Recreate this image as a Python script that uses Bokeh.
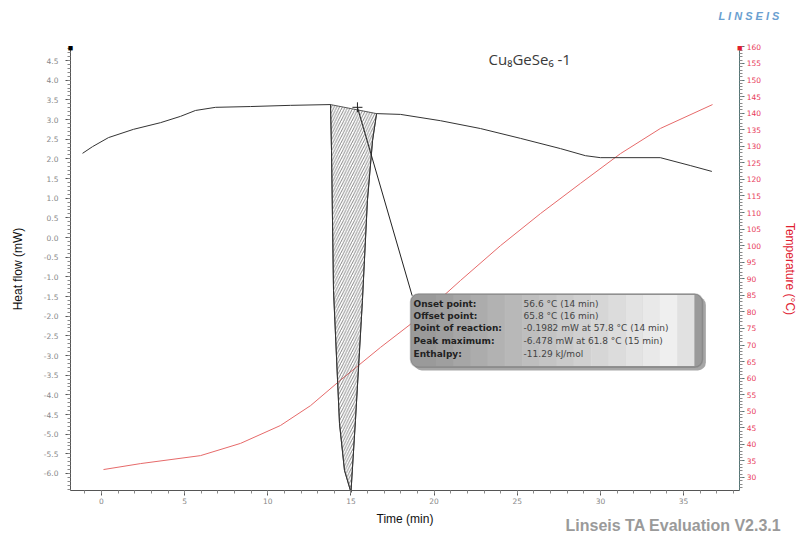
from bokeh.plotting import figure
from bokeh.models import Range1d, LinearAxis, FixedTicker, Label, BoxAnnotation, PrintfTickFormatter
from bokeh.embed import file_html
from bokeh.resources import INLINE

# ---- data ----
time_hf = [-1.14, -0.54, 0.42, 1.92, 3.55, 4.75, 5.65, 6.86, 8.96, 11.36, 13.77,
           13.83, 13.95, 14.31, 14.61, 15.0, 15.27, 15.69, 15.99, 16.30, 16.54,
           17.98, 20.38, 22.79, 25.2, 27.6, 29.1, 30.0, 33.6, 35.4, 36.7]
heat_flow = [2.14, 2.31, 2.54, 2.75, 2.92, 3.08, 3.23, 3.31, 3.33, 3.36, 3.38,
             2.21, -1.35, -4.73, -5.92, -6.478, -4.65, -1.60, 0.94, 2.47, 3.15,
             3.13, 2.97, 2.77, 2.52, 2.26, 2.08, 2.03, 2.03, 1.83, 1.68]
onset_t = 13.77
offset_t = 16.54

time_temp = [0.12, 2.35, 5.95, 8.36, 10.76, 12.57, 14.37, 16.78, 19.18, 21.59,
             23.99, 26.40, 28.80, 31.21, 33.61, 36.74]
temperature = [32.4, 34.2, 36.6, 40.3, 45.7, 51.7, 59.4, 69.3, 78.6, 89.5,
               100.0, 109.7, 118.8, 127.8, 135.4, 142.6]

x_ticks = [0, 5, 10, 15, 20, 25, 30, 35]
hf_ticks = [round(-6.0 + 0.5 * i, 1) for i in range(22)]
temp_ticks = list(range(30, 161, 5))

info_labels = ["Onset point:", "Offset point:", "Point of reaction:", "Peak maximum:", "Enthalpy:"]
info_values = ["56.6 \u00b0C (14 min)", "65.8 \u00b0C (16 min)",
               "-0.1982 mW at 57.8 \u00b0C (14 min)", "-6.478 mW at 61.8 \u00b0C (15 min)",
               "-11.29  kJ/mol"]
reaction_marker = (15.39, 3.31)

# ---- axis extents (data units) ----
AX_X0, AX_X1 = -1.864, 38.38     # time span of the axes
AX_Y0, AX_Y1 = -6.433, 4.83      # heat-flow span
AX_T0, AX_T1 = 26.07, 159.8      # temperature span

# the plotting frame covers the whole canvas; axes are pinned with fixed_location
W, H = 802, 534
p = figure(width=W, height=H,
           x_range=Range1d(-6.073, 42.15), y_range=Range1d(-7.551, 6.026),
           output_backend="svg", toolbar_location=None,
           min_border_left=0, min_border_right=0, min_border_top=0, min_border_bottom=0)
p.title.visible = False
p.extra_y_ranges = {"temp": Range1d(12.79, 174.02)}
p.outline_line_color = None
p.xgrid.visible = False
p.ygrid.visible = False
p.background_fill_color = "white"
p.border_fill_color = "white"

tick_font = "DejaVu Sans"


def style_axis(ax, label_color, line_color):
    ax.axis_line_color = line_color
    ax.major_tick_line_color = line_color
    ax.minor_tick_line_color = "#8a8a8a"
    ax.major_tick_out = 5
    ax.major_tick_in = 0
    ax.minor_tick_out = 3
    ax.minor_tick_in = 0
    ax.major_label_text_color = label_color
    ax.major_label_text_font = tick_font
    ax.major_label_text_font_size = "7.5px"
    ax.axis_label_text_font = "Liberation Sans"
    ax.axis_label_text_font_style = "normal"
    ax.axis_label_text_font_size = "12px"


# left axis
ya = p.yaxis[0]
style_axis(ya, "#888888", "#555555")
ya.ticker = FixedTicker(ticks=hf_ticks, minor_ticks=[round(-6.4 + 0.1 * i, 1) for i in range(113)])
ya.formatter = PrintfTickFormatter(format="%.1f")
ya.fixed_location = AX_X0
ya.bounds = (AX_Y0, AX_Y1)
ya.major_label_standoff = 7
ya.axis_label = "Heat flow (mW)"
ya.axis_label_text_color = "#111111"
ya.axis_label_standoff = 16

# right axis
ra = LinearAxis(y_range_name="temp")
style_axis(ra, "#e83a5a", "#557777")
ra.ticker = FixedTicker(ticks=temp_ticks, minor_ticks=list(range(27, 160)))
ra.fixed_location = AX_X1
ra.bounds = (AX_T0, AX_T1)
ra.major_label_standoff = 2
ra.axis_label = "Temperature (\u00b0C)"
ra.axis_label_text_color = "#e02030"
ra.axis_label_standoff = 19
p.add_layout(ra, "right")

# bottom axis
xa = p.xaxis[0]
style_axis(xa, "#888888", "#555555")
xa.ticker = FixedTicker(ticks=x_ticks, minor_ticks=list(range(-1, 39)))
xa.fixed_location = AX_Y0
xa.bounds = (AX_X0, AX_X1)
xa.major_label_standoff = 2
xa.axis_label = "Time (min)"
xa.axis_label_text_color = "#111111"
xa.axis_label_standoff = 5

# temperature curve
p.line(time_temp, temperature, y_range_name="temp", line_color="#e66a6a", line_width=1)

# hatched peak area between baseline and curve
i0 = time_hf.index(onset_t)
i1 = time_hf.index(offset_t)
px = time_hf[i0:i1 + 1]
py = heat_flow[i0:i1 + 1]
p.patch(px, py, fill_alpha=0, hatch_pattern="/", hatch_color="#333333", hatch_weight=0.6,
        hatch_scale=5.5, line_color="#333333", line_width=0.8)

# heat flow curve
p.line(time_hf, heat_flow, line_color="#333333", line_width=1)

# reaction marker + leader line to info box
box_l, box_r, box_t, box_b = 18.58, 36.14, -1.43, -3.30
p.scatter([reaction_marker[0]], [reaction_marker[1]], marker="cross", size=10,
          line_color="#222222", line_width=1)
p.line([reaction_marker[0], box_l + 0.1], [reaction_marker[1], box_t - 0.05],
       line_color="#222222", line_width=1)

# axis end markers
p.add_layout(Label(x=AX_X0, y=AX_Y1, text="\u25a0", text_font_size="9px", text_color="black",
                   text_align="center", text_baseline="middle"))
p.add_layout(Label(x=AX_X1, y=AX_T1, y_range_name="temp", text="\u25a0", text_font_size="9px",
                   text_color="#e02030", text_align="center", text_baseline="middle"))

# info box: shadow, base, gradient strips
p.add_layout(BoxAnnotation(left=box_l + 0.2, right=box_r + 0.2, top=box_t - 0.08, bottom=box_b - 0.08,
                           fill_color="black", fill_alpha=0.35, line_color=None, border_radius=8))
p.add_layout(BoxAnnotation(left=box_l, right=box_r, top=box_t, bottom=box_b,
                           fill_color="#9a9a9a", fill_alpha=1, line_color="#5a5a5a", line_width=1.5,
                           border_radius=8))
n_strips = 16
inner_l, inner_r = box_l + 0.5, box_r - 0.5
w = (inner_r - inner_l) / n_strips
for k in range(n_strips):
    a = min(0.92, 0.06 * k)
    if k == n_strips - 1:
        a = 0.7
    p.add_layout(BoxAnnotation(left=inner_l + k * w, right=inner_l + (k + 1) * w + 0.01,
                               top=box_t - 0.03, bottom=box_b + 0.03,
                               fill_color="white", fill_alpha=a, line_color=None))

row_y = [-1.68, -2.00, -2.31, -2.63, -2.95]
for lab, val, yy in zip(info_labels, info_values, row_y):
    p.add_layout(Label(x=18.76, y=yy, text=lab, text_font="DejaVu Sans", text_font_size="9px",
                       text_font_style="bold", text_color="#222222", text_baseline="middle"))
    p.add_layout(Label(x=25.38, y=yy, text=val, text_font="DejaVu Sans", text_font_size="9px",
                       text_color="#444444", text_baseline="middle"))

# title inside the plot
p.add_layout(Label(x=25.75, y=4.55, text="Cu\u2088GeSe\u2086 -1", text_font="Open Sans",
                   text_font_size="15px", text_color="#3a3a3a", text_align="center",
                   text_baseline="middle"))

# software caption and logo
p.add_layout(Label(x=27.9, y=-7.31, text="Linseis TA Evaluation V2.3.1", text_font="Liberation Sans",
                   text_font_size="16px", text_font_style="bold", text_color="#9a9a9a",
                   text_baseline="middle"))
p.add_layout(Label(x=37.1, y=5.64, text="L I N S E I S", text_font="Liberation Sans",
                   text_font_size="11px", text_font_style="bold italic", text_color="#6a9fd0",
                   text_baseline="middle"))

open("out.html", "w").write(file_html(p, INLINE))
